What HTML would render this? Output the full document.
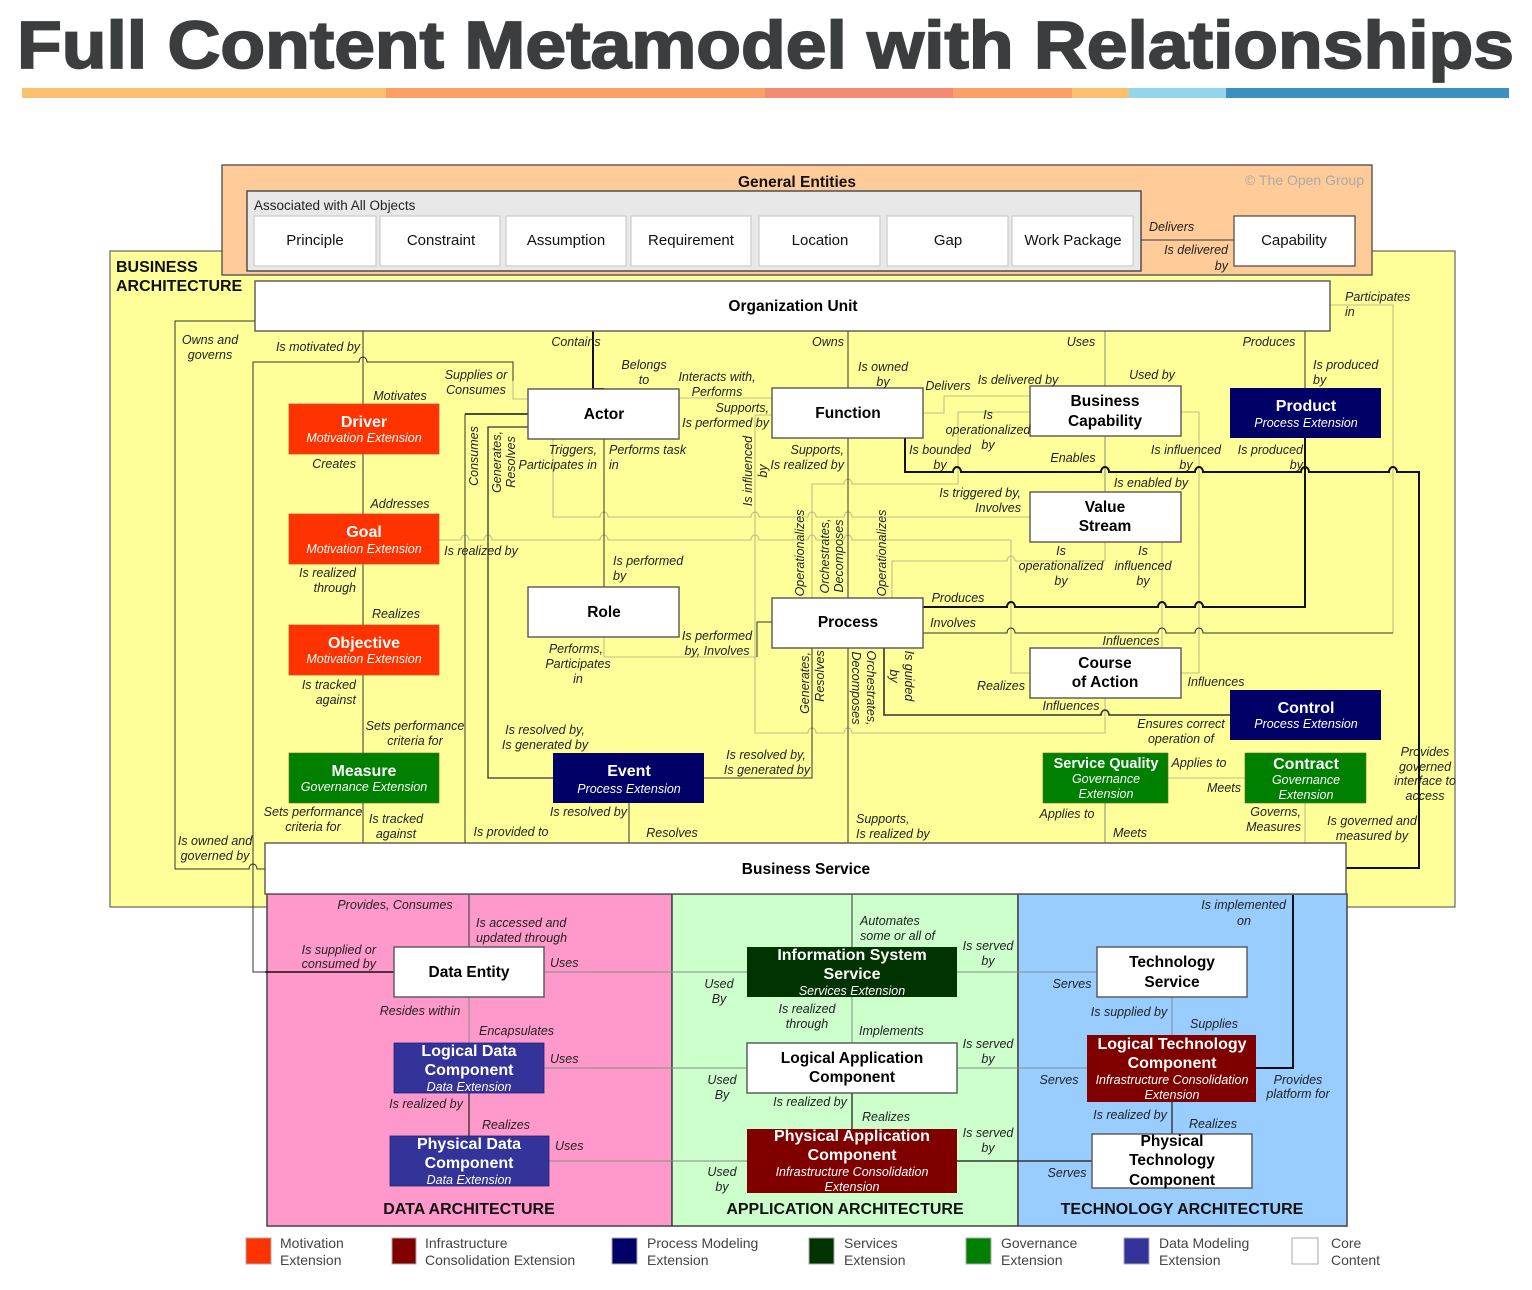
<!DOCTYPE html>
<html><head><meta charset="utf-8">
<style>
html,body{margin:0;padding:0;background:#fff;width:1532px;height:1290px;overflow:hidden}
svg{display:block}
text{font-family:"Liberation Sans",Arial,sans-serif}
.i text,text.i{font-style:italic;font-size:12.5px;fill:#222}
.m{text-anchor:middle}
.n text{font-size:15.5px;text-anchor:middle;fill:#000;font-weight:bold}
.w text{font-size:16px;text-anchor:middle;fill:#fff;font-weight:bold}
.s text{font-size:12.5px;font-style:italic;text-anchor:middle;fill:#fff}
.e text{font-size:15px;text-anchor:middle;fill:#111}
.l text{font-size:14px;fill:#444}
.g path{fill:none;stroke:#bfbf88;stroke-width:1.1}
.p path{fill:none;stroke:#7f8f7f;stroke-width:1}
.d path{fill:none;stroke:#333;stroke-width:1}
.k path{fill:none;stroke:#111;stroke-width:2}
.box rect{fill:#fff;stroke:#555;stroke-width:1.4}
.leg rect{stroke:#aaa;stroke-width:1}
</style></head><body>
<svg width="1532" height="1290" viewBox="0 0 1532 1290" xmlns="http://www.w3.org/2000/svg">
<rect width="1532" height="1290" fill="#fff"/>
<text x="17" y="68" font-size="67" font-weight="bold" fill="#3b3d3f" stroke="#3b3d3f" stroke-width="1.8" textLength="1497" lengthAdjust="spacingAndGlyphs">Full Content Metamodel with Relationships</text>
<rect x="22" y="88" width="364" height="10" fill="#fbbf6d"/>
<rect x="386" y="88" width="379" height="10" fill="#fa9f66"/>
<rect x="765" y="88" width="188" height="10" fill="#f58a72"/>
<rect x="953" y="88" width="119" height="10" fill="#fa9f66"/>
<rect x="1072" y="88" width="57" height="10" fill="#fbbf6d"/>
<rect x="1129" y="88" width="97" height="10" fill="#92d6ec"/>
<rect x="1226" y="88" width="283" height="10" fill="#3a90c2"/>

<!-- Business arch background -->
<rect x="110" y="251" width="1345" height="656" fill="#ffff99" stroke="#666" stroke-width="1.2"/>
<text x="116" y="272" font-size="16" font-weight="bold" fill="#111">BUSINESS</text>
<text x="116" y="291" font-size="16" font-weight="bold" fill="#111">ARCHITECTURE</text>

<!-- Lower panels -->
<rect x="267" y="894" width="405" height="332" fill="#ff99cc" stroke="#444" stroke-width="1.5"/>
<rect x="672" y="894" width="346" height="332" fill="#ccffcc" stroke="#444" stroke-width="1.5"/>
<rect x="1018" y="894" width="329" height="332" fill="#99ccff" stroke="#444" stroke-width="1.5"/>

<!-- General Entities -->
<rect x="222" y="165" width="1150" height="110" fill="#ffcc99" stroke="#555" stroke-width="1.4"/>
<text x="797" y="187" font-size="15.5" font-weight="bold" text-anchor="middle" fill="#111">General Entities</text>
<text x="1364" y="185" font-size="14" text-anchor="end" fill="#a9a9a9">© The Open Group</text>
<rect x="247" y="191" width="894" height="80" fill="#e8e8e8" stroke="#444" stroke-width="1.4"/>
<text x="254" y="210" font-size="13.5" fill="#222">Associated with All Objects</text>
<g fill="#fff" stroke="#ccc" stroke-width="1.2">
<rect x="254" y="216" width="122" height="50"/>
<rect x="380" y="216" width="120" height="50"/>
<rect x="506" y="216" width="120" height="50"/>
<rect x="631" y="216" width="120" height="50"/>
<rect x="759" y="216" width="121" height="50"/>
<rect x="887" y="216" width="121" height="50"/>
<rect x="1012" y="216" width="121" height="50"/>
</g>
<g class="e">
<text x="315" y="245">Principle</text>
<text x="441" y="245">Constraint</text>
<text x="566" y="245">Assumption</text>
<text x="691" y="245">Requirement</text>
<text x="820" y="245">Location</text>
<text x="948" y="245">Gap</text>
<text x="1073" y="245">Work Package</text>
</g>
<g class="d"><path d="M1141,240H1234"/></g>
<rect x="1234" y="216" width="121" height="50" fill="#fff" stroke="#444" stroke-width="1.2"/>
<text x="1294" y="245" font-size="15" text-anchor="middle" fill="#111">Capability</text>

<!-- Pale connectors -->
<g class="g">
<path d="M553,439V517H600a4,5 0 0 1 8,0H751a4,5 0 0 1 8,0H808a4,5 0 0 1 8,0H844a4,5 0 0 1 8,0H1030"/>
<path d="M439,540H461a4,5 0 0 1 8,0H484a4,5 0 0 1 8,0H600a4,5 0 0 1 8,0H751a4,5 0 0 1 8,0H808a4,5 0 0 1 8,0H844a4,5 0 0 1 8,0H1011V673H1030"/>
<path d="M812,598V484H844a4,5 0 0 1 8,0H958V412H1030"/>
<path d="M772,415H755V733H808a4,5 0 0 1 8,0H844a4,5 0 0 1 8,0H1105V698"/>
<path d="M923,413H944V396H1030"/>
<path d="M892,598V561H1007a4,5 0 0 1 8,0H1105V542"/>
<path d="M1181,412H1199V673H1181"/>
<path d="M1162,542V648"/>
<path d="M1330,305H1393V633"/>
<path d="M679,398H772"/>
<path d="M604,637V657H757"/>
<path d="M1168,778H1245"/>
<path d="M1305,803V843"/>
<path d="M513,381V399H528"/>
</g>
<g class="p">
<path d="M544,972H747"/>
<path d="M957,972H1097"/>
<path d="M544,1068H747"/>
<path d="M957,1068H1087"/>
<path d="M549,1161H747"/>
<path d="M469,997V1043"/>
<path d="M852,997V1043"/>
<path d="M1172,997V1035"/>
<path d="M1105,436V492"/>
<path d="M1105,331V386"/>
<path d="M1105,803V843"/>
</g>
<!-- Dark thin -->
<g class="d">
<path d="M363,331V404M363,454V514M363,564V625M363,675V753M363,803V843"/>
<path d="M394,972H253V362H359a4,5 0 0 1 8,0H513V381"/>
<path d="M255,321H175V869H249a4,5 0 0 1 8,0H265"/>
<path d="M465,414V843"/>
<path d="M528,414H465" style="stroke-width:1.7"/>
<path d="M528,427H488V778H553" style="stroke-width:1.3"/>
<path d="M604,439V587"/>
<path d="M757,657V622H772"/>
<path d="M629,803V843"/>
<path d="M704,778H812V648"/>
<path d="M848,331V388M848,438V598M848,648V843"/>
<path d="M1305,331V388"/>
<path d="M923,633H1007a4,5 0 0 1 8,0H1158a4,5 0 0 1 8,0H1195a4,5 0 0 1 8,0H1393"/>
<path d="M884,648V715H1101a4,5 0 0 1 8,0H1230" style="stroke-width:1.6"/>
<path d="M469,895V947"/>
<path d="M469,1093V1136" style="stroke-width:1.4"/>
<path d="M852,895V947"/>
<path d="M852,1093V1129" style="stroke-width:1.4"/>
<path d="M957,1161H1092" style="stroke-width:1.4"/>
<path d="M1172,1102V1134" style="stroke-width:1.4"/>
</g>
<!-- Thick -->
<g class="k">
<path d="M593,331V389H604"/>
<path d="M905,438V472H953a4,5 0 0 1 8,0H1101a4,5 0 0 1 8,0H1195a4,5 0 0 1 8,0H1301a4,5 0 0 1 8,0H1389a4,5 0 0 1 8,0H1419V868H1346"/>
<path d="M923,607H1007a4,5 0 0 1 8,0H1158a4,5 0 0 1 8,0H1195a4,5 0 0 1 8,0H1305V438"/>
<path d="M1256,1068H1293V895"/>
<path d="M394,972H265" style="stroke-width:1.5"/>
</g>

<!-- White boxes -->
<g class="box">
<rect x="255" y="281" width="1075" height="50"/>
<rect x="528" y="389" width="151" height="50"/>
<rect x="772" y="388" width="151" height="50"/>
<rect x="1030" y="386" width="151" height="50"/>
<rect x="1030" y="492" width="151" height="50"/>
<rect x="528" y="587" width="151" height="50"/>
<rect x="772" y="598" width="151" height="50"/>
<rect x="1030" y="648" width="151" height="50"/>
<rect x="265" y="843" width="1081" height="51"/>
<rect x="394" y="947" width="150" height="50"/>
<rect x="747" y="1043" width="210" height="50"/>
<rect x="1097" y="947" width="150" height="50"/>
<rect x="1092" y="1134" width="160" height="54"/>
</g>
<g class="n">
<text x="793" y="311">Organization Unit</text>
<text x="604" y="419">Actor</text>
<text x="848" y="418">Function</text>
<text x="1105" y="406">Business</text>
<text x="1105" y="426">Capability</text>
<text x="1105" y="512">Value</text>
<text x="1105" y="531">Stream</text>
<text x="604" y="617">Role</text>
<text x="848" y="627">Process</text>
<text x="1105" y="668">Course</text>
<text x="1105" y="687">of Action</text>
<text x="806" y="874">Business Service</text>
<text x="469" y="977">Data Entity</text>
<text x="852" y="1063">Logical Application</text>
<text x="852" y="1082">Component</text>
<text x="1172" y="967">Technology</text>
<text x="1172" y="987">Service</text>
<text x="1172" y="1146">Physical</text>
<text x="1172" y="1165">Technology</text>
<text x="1172" y="1185">Component</text>
</g>

<!-- Coloured boxes -->
<g stroke="#c7532f" stroke-width="0.8" fill="#ff3300">
<rect x="289" y="404" width="150" height="50"/>
<rect x="289" y="514" width="150" height="50"/>
<rect x="289" y="625" width="150" height="50"/>
</g>
<g fill="#008000" stroke="#556b2f" stroke-width="0.6">
<rect x="289" y="753" width="150" height="50"/>
<rect x="1043" y="753" width="125" height="50"/>
<rect x="1245" y="753" width="121" height="50"/>
</g>
<g fill="#000066">
<rect x="553" y="753" width="151" height="50"/>
<rect x="1230" y="388" width="151" height="50"/>
<rect x="1230" y="690" width="151" height="50"/>
</g>
<rect x="747" y="947" width="210" height="50" fill="#003300"/>
<g fill="#800000">
<rect x="747" y="1129" width="210" height="64"/>
<rect x="1087" y="1035" width="169" height="67"/>
</g>
<g fill="#333399" stroke="#222277" stroke-width="0.8">
<rect x="394" y="1043" width="150" height="50"/>
<rect x="390" y="1136" width="159" height="50"/>
</g>
<g class="w">
<text x="364" y="427">Driver</text>
<text x="364" y="537">Goal</text>
<text x="364" y="648">Objective</text>
<text x="364" y="776">Measure</text>
<text x="629" y="776">Event</text>
<text x="1306" y="411">Product</text>
<text x="1306" y="713">Control</text>
<text x="1306" y="769">Contract</text>
<text x="1106" y="768" style="font-size:14.5px">Service Quality</text>
<text x="852" y="960">Information System</text>
<text x="852" y="979">Service</text>
<text x="469" y="1056">Logical Data</text>
<text x="469" y="1075">Component</text>
<text x="469" y="1149">Physical Data</text>
<text x="469" y="1168">Component</text>
<text x="852" y="1141">Physical Application</text>
<text x="852" y="1160">Component</text>
<text x="1172" y="1049">Logical Technology</text>
<text x="1172" y="1068">Component</text>
</g>
<g class="s">
<text x="364" y="442">Motivation Extension</text>
<text x="364" y="553">Motivation Extension</text>
<text x="364" y="663">Motivation Extension</text>
<text x="364" y="791">Governance Extension</text>
<text x="629" y="793">Process Extension</text>
<text x="1306" y="427">Process Extension</text>
<text x="1306" y="728">Process Extension</text>
<text x="1106" y="783">Governance</text>
<text x="1106" y="798">Extension</text>
<text x="1306" y="784">Governance</text>
<text x="1306" y="799">Extension</text>
<text x="852" y="995">Services Extension</text>
<text x="469" y="1091">Data Extension</text>
<text x="469" y="1184">Data Extension</text>
<text x="852" y="1176">Infrastructure Consolidation</text>
<text x="852" y="1191">Extension</text>
<text x="1172" y="1084">Infrastructure Consolidation</text>
<text x="1172" y="1099">Extension</text>
</g>

<!-- Labels -->
<g class="i">
<text class="m" x="210" y="344" text-anchor="middle">Owns and</text><text x="210" y="359" text-anchor="middle">governs</text>
<text x="318" y="351" text-anchor="middle">Is motivated by</text>
<text x="576" y="346" text-anchor="middle">Contains</text>
<text x="828" y="346" text-anchor="middle">Owns</text>
<text x="1081" y="346" text-anchor="middle">Uses</text>
<text x="1269" y="346" text-anchor="middle">Produces</text>
<text x="1345" y="301">Participates</text><text x="1345" y="316">in</text>
<text x="883" y="371" text-anchor="middle">Is owned</text><text x="883" y="386" text-anchor="middle">by</text>
<text x="644" y="369" text-anchor="middle">Belongs</text><text x="644" y="384" text-anchor="middle">to</text>
<text x="717" y="381" text-anchor="middle">Interacts with,</text><text x="717" y="396" text-anchor="middle">Performs</text>
<text x="476" y="379" text-anchor="middle">Supplies or</text><text x="476" y="394" text-anchor="middle">Consumes</text>
<text x="400" y="400" text-anchor="middle">Motivates</text>
<text x="948" y="390" text-anchor="middle">Delivers</text>
<text x="1018" y="384" text-anchor="middle">Is delivered by</text>
<text x="1152" y="379" text-anchor="middle">Used by</text>
<text x="1313" y="369">Is produced</text><text x="1313" y="384">by</text>
<text x="769" y="412" text-anchor="end">Supports,</text><text x="769" y="427" text-anchor="end">Is performed by</text>
<text x="988" y="419" text-anchor="middle">Is</text><text x="988" y="434" text-anchor="middle">operationalized</text><text x="988" y="449" text-anchor="middle">by</text>
<text x="356" y="468" text-anchor="end">Creates</text>
<text x="597" y="454" text-anchor="end">Triggers,</text><text x="597" y="469" text-anchor="end">Participates in</text>
<text x="609" y="454">Performs task</text><text x="609" y="469">in</text>
<text x="844" y="454" text-anchor="end">Supports,</text><text x="844" y="469" text-anchor="end">Is realized by</text>
<text x="940" y="454" text-anchor="middle">Is bounded</text><text x="940" y="469" text-anchor="middle">by</text>
<text x="1073" y="462" text-anchor="middle">Enables</text>
<text x="1186" y="454" text-anchor="middle">Is influenced</text><text x="1186" y="469" text-anchor="middle">by</text>
<text x="1303" y="454" text-anchor="end">Is produced</text><text x="1303" y="469" text-anchor="end">by</text>
<text x="1151" y="487" text-anchor="middle">Is enabled by</text>
<text x="1021" y="497" text-anchor="end">Is triggered by,</text><text x="1021" y="512" text-anchor="end">Involves</text>
<text x="400" y="508" text-anchor="middle">Addresses</text>
<text x="481" y="555" text-anchor="middle">Is realized by</text>
<text x="613" y="565">Is performed</text><text x="613" y="580">by</text>
<text x="1061" y="555" text-anchor="middle">Is</text><text x="1061" y="570" text-anchor="middle">operationalized</text><text x="1061" y="585" text-anchor="middle">by</text>
<text x="1143" y="555" text-anchor="middle">Is</text><text x="1143" y="570" text-anchor="middle">influenced</text><text x="1143" y="585" text-anchor="middle">by</text>
<text x="958" y="602" text-anchor="middle">Produces</text>
<text x="953" y="627" text-anchor="middle">Involves</text>
<text x="1131" y="645" text-anchor="middle">Influences</text>
<text x="356" y="577" text-anchor="end">Is realized</text><text x="356" y="592" text-anchor="end">through</text>
<text x="396" y="618" text-anchor="middle">Realizes</text>
<text x="717" y="640" text-anchor="middle">Is performed</text><text x="717" y="655" text-anchor="middle">by, Involves</text>
<text x="603" y="653" text-anchor="end">Performs,</text><text x="578" y="668" text-anchor="middle">Participates</text><text x="578" y="683" text-anchor="middle">in</text>
<text x="356" y="689" text-anchor="end">Is tracked</text><text x="356" y="704" text-anchor="end">against</text>
<text x="1001" y="690" text-anchor="middle">Realizes</text>
<text x="1216" y="686" text-anchor="middle">Influences</text>
<text x="1071" y="710" text-anchor="middle">Influences</text>
<text x="1181" y="728" text-anchor="middle">Ensures correct</text><text x="1181" y="743" text-anchor="middle">operation of</text>
<text x="415" y="730" text-anchor="middle">Sets performance</text><text x="415" y="745" text-anchor="middle">criteria for</text>
<text x="545" y="734" text-anchor="middle">Is resolved by,</text><text x="545" y="749" text-anchor="middle">Is generated by</text>
<text x="766" y="759" text-anchor="middle">Is resolved by,</text><text x="767" y="774" text-anchor="middle">Is generated by</text>
<text x="1199" y="767" text-anchor="middle">Applies to</text>
<text x="1224" y="792" text-anchor="middle">Meets</text>
<text x="1067" y="818" text-anchor="middle">Applies to</text>
<text x="1301" y="816" text-anchor="end">Governs,</text><text x="1301" y="831" text-anchor="end">Measures</text>
<text x="1425" y="756" text-anchor="middle">Provides</text><text x="1425" y="771" text-anchor="middle">governed</text><text x="1425" y="785" text-anchor="middle">interface to</text><text x="1425" y="800" text-anchor="middle">access</text>
<text x="1372" y="825" text-anchor="middle">Is governed and</text><text x="1372" y="840" text-anchor="middle">measured by</text>
<text x="313" y="816" text-anchor="middle">Sets performance</text><text x="313" y="831" text-anchor="middle">criteria for</text>
<text x="396" y="823" text-anchor="middle">Is tracked</text><text x="396" y="838" text-anchor="middle">against</text>
<text x="627" y="816" text-anchor="end">Is resolved by</text>
<text x="511" y="836" text-anchor="middle">Is provided to</text>
<text x="672" y="837" text-anchor="middle">Resolves</text>
<text x="856" y="823">Supports,</text><text x="856" y="838">Is realized by</text>
<text x="1130" y="837" text-anchor="middle">Meets</text>
<text x="215" y="845" text-anchor="middle">Is owned and</text><text x="215" y="860" text-anchor="middle">governed by</text>
<text x="1149" y="231">Delivers</text>
<text x="1228" y="254" text-anchor="end">Is delivered</text><text x="1228" y="270" text-anchor="end">by</text>

<text transform="translate(478,456) rotate(-90)" text-anchor="middle">Consumes</text>
<text transform="translate(501,462) rotate(-90)" text-anchor="middle">Generates,</text>
<text transform="translate(515,462) rotate(-90)" text-anchor="middle">Resolves</text>
<text transform="translate(752,471) rotate(-90)" text-anchor="middle">Is influenced</text>
<text transform="translate(767,471) rotate(-90)" text-anchor="middle">by</text>
<text transform="translate(804,553) rotate(-90)" text-anchor="middle">Operationalizes</text>
<text transform="translate(829,556) rotate(-90)" text-anchor="middle">Orchestrates,</text>
<text transform="translate(843,556) rotate(-90)" text-anchor="middle">Decomposes</text>
<text transform="translate(886,553) rotate(-90)" text-anchor="middle">Operationalizes</text>
<text transform="translate(809,683) rotate(-90)" text-anchor="middle">Generates,</text>
<text transform="translate(824,676) rotate(-90)" text-anchor="middle">Resolves</text>
<text transform="translate(852,688) rotate(90)" text-anchor="middle">Decomposes</text>
<text transform="translate(867,688) rotate(90)" text-anchor="middle">Orchestrates,</text>
<text transform="translate(905,676) rotate(90)" text-anchor="middle">Is guided</text>
<text transform="translate(890,676) rotate(90)" text-anchor="middle">by</text>

<text x="395" y="909" text-anchor="middle">Provides, Consumes</text>
<text x="476" y="927">Is accessed and</text><text x="476" y="942">updated through</text>
<text x="376" y="954" text-anchor="end">Is supplied or</text><text x="376" y="968" text-anchor="end">consumed by</text>
<text x="550" y="967">Uses</text>
<text x="860" y="925">Automates</text><text x="860" y="940">some or all of</text>
<text x="988" y="950" text-anchor="middle">Is served</text><text x="988" y="965" text-anchor="middle">by</text>
<text x="1286" y="909" text-anchor="end">Is implemented</text><text x="1244" y="925" text-anchor="middle">on</text>
<text x="1072" y="988" text-anchor="middle">Serves</text>
<text x="719" y="988" text-anchor="middle">Used</text><text x="719" y="1003" text-anchor="middle">By</text>
<text x="807" y="1013" text-anchor="middle">Is realized</text><text x="807" y="1028" text-anchor="middle">through</text>
<text x="859" y="1035">Implements</text>
<text x="420" y="1015" text-anchor="middle">Resides within</text>
<text x="479" y="1035">Encapsulates</text>
<text x="1129" y="1016" text-anchor="middle">Is supplied by</text>
<text x="1214" y="1028" text-anchor="middle">Supplies</text>
<text x="550" y="1063">Uses</text>
<text x="722" y="1084" text-anchor="middle">Used</text><text x="722" y="1099" text-anchor="middle">By</text>
<text x="988" y="1048" text-anchor="middle">Is served</text><text x="988" y="1063" text-anchor="middle">by</text>
<text x="1059" y="1084" text-anchor="middle">Serves</text>
<text x="1298" y="1084" text-anchor="middle">Provides</text><text x="1298" y="1098" text-anchor="middle">platform for</text>
<text x="426" y="1108" text-anchor="middle">Is realized by</text>
<text x="810" y="1106" text-anchor="middle">Is realized by</text>
<text x="506" y="1129" text-anchor="middle">Realizes</text>
<text x="886" y="1121" text-anchor="middle">Realizes</text>
<text x="1130" y="1119" text-anchor="middle">Is realized by</text>
<text x="1213" y="1128" text-anchor="middle">Realizes</text>
<text x="555" y="1150">Uses</text>
<text x="988" y="1137" text-anchor="middle">Is served</text><text x="988" y="1152" text-anchor="middle">by</text>
<text x="722" y="1176" text-anchor="middle">Used</text><text x="722" y="1191" text-anchor="middle">by</text>
<text x="1067" y="1177" text-anchor="middle">Serves</text>
</g>

<g font-size="16" font-weight="bold" text-anchor="middle" fill="#111">
<text x="469" y="1214">DATA ARCHITECTURE</text>
<text x="845" y="1214">APPLICATION ARCHITECTURE</text>
<text x="1182" y="1214">TECHNOLOGY ARCHITECTURE</text>
</g>

<!-- Legend -->
<g class="leg">
<rect x="246" y="1238" width="25" height="26" fill="#ff3300"/>
<rect x="392" y="1238" width="24" height="26" fill="#800000"/>
<rect x="612" y="1238" width="25" height="26" fill="#000066"/>
<rect x="809" y="1238" width="25" height="26" fill="#003300"/>
<rect x="966" y="1238" width="25" height="26" fill="#008000"/>
<rect x="1124" y="1238" width="25" height="26" fill="#333399"/>
<rect x="1292" y="1238" width="26" height="26" fill="#fff"/>
</g>
<g class="l">
<text x="280" y="1248">Motivation</text><text x="280" y="1265">Extension</text>
<text x="425" y="1248">Infrastructure</text><text x="425" y="1265">Consolidation Extension</text>
<text x="647" y="1248">Process Modeling</text><text x="647" y="1265">Extension</text>
<text x="844" y="1248">Services</text><text x="844" y="1265">Extension</text>
<text x="1001" y="1248">Governance</text><text x="1001" y="1265">Extension</text>
<text x="1159" y="1248">Data Modeling</text><text x="1159" y="1265">Extension</text>
<text x="1331" y="1248">Core</text><text x="1331" y="1265">Content</text>
</g>
</svg>
</body></html>
